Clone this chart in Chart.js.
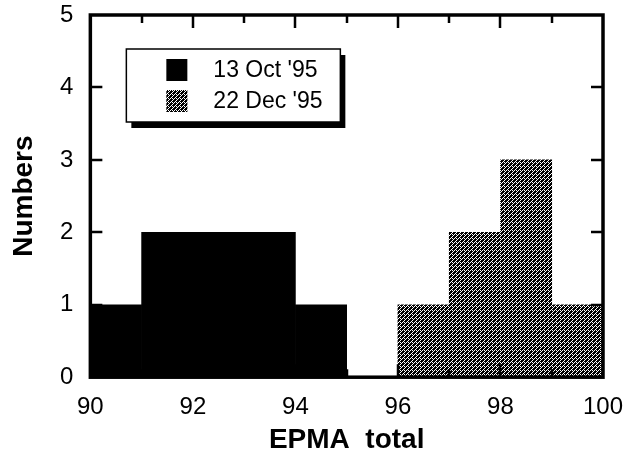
<!DOCTYPE html>
<html>
<head>
<meta charset="utf-8">
<script src="https://cdn.jsdelivr.net/npm/chart.js@4/dist/chart.umd.min.js"></script>
<style>
  body { margin: 0; background: #fff; }
  canvas { display: block; }
</style>
</head>
<body>
<canvas id="chart" width="623" height="455"></canvas>
<script>
// Histogram bins (bin centres) and counts
const octBins = [90.5, 91.5, 92.5, 93.5, 94.5, 95.5];
const octCounts = [1, 2, 2, 2, 1, 0];
const decBins = [96.5, 97.5, 98.5, 99.5];
const decCounts = [1, 2, 3, 1];

const seriesLabels = ["13 Oct '95", "22 Dec '95"];
const xTitle = 'EPMA  total';
const yTitle = 'Numbers';

const FONT = '"Liberation Sans", Arial, Helvetica, sans-serif';

// dithered grey like the printed figure
function makeDither() {
    const c = document.createElement('canvas');
    c.width = 4;
    c.height = 4;
    const g = c.getContext('2d');
    g.fillStyle = '#fff';
    g.fillRect(0, 0, 4, 4);
    g.fillStyle = '#000';
    for (let y = 0; y < 4; y++) {
        for (let x = 0; x < 4; x++) {
            const d = (x + y) % 4;
            const white = d === 0 || (d === 2 && x % 4 === 0);
            if (!white) g.fillRect(x, y, 1, 1);
        }
    }
    return document.getElementById('chart').getContext('2d').createPattern(c, 'repeat');
}
const grey = makeDither();

// frame with inward ticks on all four sides
const framePlugin = {
    id: 'frame',
    afterDatasetsDraw(chart) {
        const { ctx, chartArea: a, scales } = chart;
        const xs = scales.x, ys = scales.y;
        ctx.save();
        ctx.strokeStyle = '#000';
        ctx.lineWidth = 2.5;
        for (let v = 91; v < 100; v++) {
            const px = Math.round(xs.getPixelForValue(v));
            const len = v % 2 === 0 ? 13 : 8;
            ctx.beginPath();
            ctx.moveTo(px, a.top);
            ctx.lineTo(px, a.top + len);
            ctx.moveTo(px, a.bottom);
            ctx.lineTo(px, a.bottom - len);
            ctx.stroke();
        }
        for (let v = 1; v < 5; v++) {
            const py = Math.round(ys.getPixelForValue(v));
            ctx.beginPath();
            ctx.moveTo(a.left, py);
            ctx.lineTo(a.left + 12, py);
            ctx.moveTo(a.right, py);
            ctx.lineTo(a.right - 12, py);
            ctx.stroke();
        }
        ctx.lineWidth = 3.5;
        ctx.strokeRect(a.left, a.top, a.right - a.left, a.bottom - a.top);
        ctx.restore();
    }
};

// boxed legend with drop shadow inside the plot
const legendPlugin = {
    id: 'boxLegend',
    afterDraw(chart) {
        const { ctx, chartArea: a } = chart;
        const bx = a.left + 36, by = a.top + 34, bw = 214, bh = 73;
        ctx.save();
        ctx.fillStyle = '#000';
        ctx.fillRect(bx + 5, by + 6, bw, bh);
        ctx.fillStyle = '#fff';
        ctx.fillRect(bx, by, bw, bh);
        ctx.strokeStyle = '#000';
        ctx.lineWidth = 1.5;
        ctx.strokeRect(bx, by, bw, bh);
        const fills = ['#000', grey];
        ctx.font = '23px ' + FONT;
        ctx.textBaseline = 'middle';
        seriesLabels.forEach((lab, i) => {
            const cy = by + 21 + i * 31;
            ctx.fillStyle = fills[i];
            ctx.fillRect(bx + 40, cy - 11, 21, 22);
            ctx.fillStyle = '#000';
            ctx.fillText(lab, bx + 87, cy + 1);
        });
        ctx.restore();
    }
};

new Chart(document.getElementById('chart'), {
    type: 'bar',
    data: {
        datasets: [
            {
                label: seriesLabels[0],
                data: octBins.map((b, i) => ({ x: b, y: octCounts[i] })),
                backgroundColor: '#000'
            },
            {
                label: seriesLabels[1],
                data: decBins.map((b, i) => ({ x: b, y: decCounts[i] })),
                backgroundColor: grey
            }
        ]
    },
    options: {
        responsive: false,
        animation: false,
        grouped: false,
        barPercentage: 1,
        categoryPercentage: 1,
        layout: { padding: 0 },
        plugins: {
            legend: { display: false },
            tooltip: { enabled: false }
        },
        scales: {
            x: {
                type: 'linear',
                min: 90,
                max: 100,
                offset: false,
                grid: { display: false, drawTicks: false, offset: false },
                border: { display: false },
                ticks: {
                    stepSize: 2,
                    padding: 16,
                    color: '#000',
                    font: { family: FONT, size: 24 }
                },
                title: {
                    display: true,
                    text: xTitle,
                    color: '#000',
                    font: { family: FONT, size: 28, weight: 'bold', lineHeight: 1 },
                    padding: { top: -12, bottom: 1 }
                },
                afterFit(scale) {
                    scale.paddingRight = 20;
                }
            },
            y: {
                min: 0,
                max: 5,
                grid: { display: false, drawTicks: false },
                border: { display: false },
                ticks: {
                    stepSize: 1,
                    padding: 17,
                    color: '#000',
                    font: { family: FONT, size: 24 }
                },
                title: {
                    display: true,
                    text: yTitle,
                    color: '#000',
                    font: { family: FONT, size: 28, weight: 'bold', lineHeight: 1 },
                    padding: { top: 10, bottom: 5 }
                },
                afterFit(scale) {
                    scale.paddingTop = 15;
                    scale.paddingBottom = 0;
                }
            }
        }
    },
    plugins: [framePlugin, legendPlugin]
});
</script>
</body>
</html>
